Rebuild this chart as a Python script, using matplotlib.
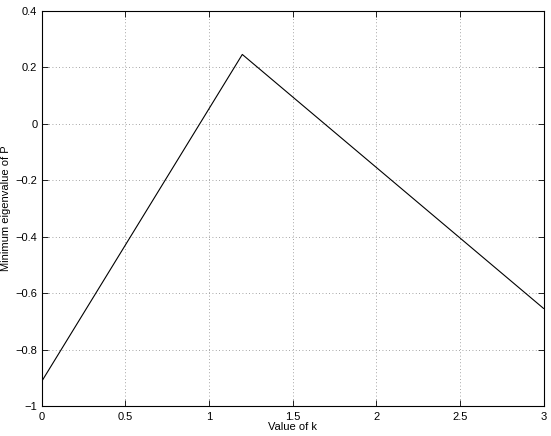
import matplotlib
matplotlib.use("Agg")
from matplotlib import pyplot as plt

# value of k and the minimum eigenvalue of P
k = [0, 1.2, 3]
min_eig = [-0.914, 0.246, -0.654]

xticks = [0, 0.5, 1, 1.5, 2, 2.5, 3]
xtick_labels = ['0', '0.5', '1', '1.5', '2', '2.5', '3']
yticks = [-1, -0.8, -0.6, -0.4, -0.2, 0, 0.2, 0.4]
ytick_labels = ['\u22121', '\u22120.8', '\u22120.6', '\u22120.4', '\u22120.2', '0', '0.2', '0.4']

plt.rcParams['font.family'] = ['Liberation Sans', 'DejaVu Sans']
plt.rcParams['font.size'] = 8

fig = plt.figure(figsize=(5.51, 4.36), dpi=100)
ax = fig.add_axes([41.5 / 551, 1 - 406 / 436, 502 / 551, 395 / 436])

ax.plot(k, min_eig, color='black', linewidth=0.8)

ax.set_xlim(0, 3)
ax.set_ylim(-1, 0.4)
ax.set_xticks(xticks, xtick_labels)
ax.set_yticks(yticks, ytick_labels)
ax.tick_params(direction='in', top=True, right=True, length=4, width=0.6)
ax.tick_params(axis='x', pad=4)
ax.tick_params(axis='y', pad=3)
for s in ax.spines.values():
    s.set_linewidth(0.8)

ax.grid(True, linestyle=(0, (1, 3)), color='#888888', linewidth=0.6)

ax.set_xlabel('Value of k', labelpad=0)
ax.set_ylabel('Minimum eigenvalue of P', labelpad=3)

fig.savefig('out.png', dpi=100)
